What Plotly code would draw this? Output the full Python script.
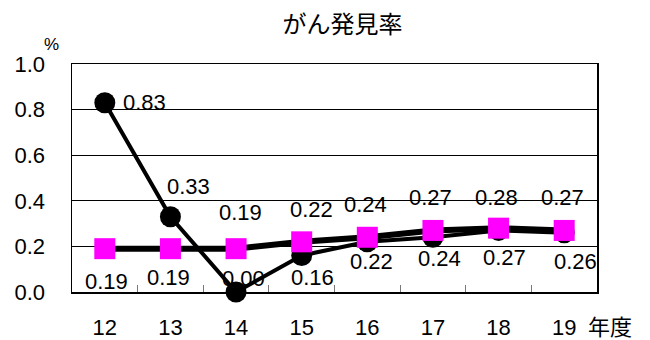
import plotly.graph_objects as go

# ---- data ----
years = ["12", "13", "14", "15", "16", "17", "18", "19"]
black_series = [0.83, 0.33, 0.00, 0.16, 0.22, 0.24, 0.27, 0.26]
magenta_series = [0.19, 0.19, 0.19, 0.22, 0.24, 0.27, 0.28, 0.27]
y_ticks = [0.0, 0.2, 0.4, 0.6, 0.8, 1.0]
title_text = "がん発見率"
x_unit = "年度"
y_unit = "%"

# ---- label offsets (pixels, style only) ----
black_label_dx = [40, 18, 7, 11, 4, 7, 6, 11]
black_label_dy = [0, -30, -14, 22, 20, 21, 27, 29]
mag_label_dx = [2, -2, 4, 10, -2, -2, -2, -2]
mag_label_dy = [33, 29, -36, -32, -33, -33, -31, -33]

FONT = "Liberation Sans, Arial, sans-serif"
JFONT = "Noto Sans CJK JP, sans-serif"
FS = 22

fig = go.Figure()
fig.add_trace(go.Scatter(
    x=years, y=black_series, mode="lines+markers",
    line=dict(color="black", width=4),
    marker=dict(symbol="circle", size=21, color="black"),
    showlegend=False, cliponaxis=False, hoverinfo="skip"))
fig.add_trace(go.Scatter(
    x=years, y=magenta_series, mode="lines+markers",
    line=dict(color="black", width=6),
    marker=dict(symbol="square", size=21, color="#FF00FF"),
    showlegend=False, cliponaxis=False, hoverinfo="skip"))

annotations = []
for i, y in enumerate(years):
    annotations.append(dict(x=i, y=black_series[i], xref="x", yref="y",
                            text=f"{black_series[i]:.2f}",
                            xshift=black_label_dx[i], yshift=-black_label_dy[i],
                            showarrow=False, xanchor="center", yanchor="middle",
                            font=dict(family=FONT, size=FS, color="black")))
    annotations.append(dict(x=i, y=magenta_series[i], xref="x", yref="y",
                            text=f"{magenta_series[i]:.2f}",
                            xshift=mag_label_dx[i], yshift=-mag_label_dy[i],
                            showarrow=False, xanchor="center", yanchor="middle",
                            font=dict(family=FONT, size=FS, color="black")))

annotations.append(dict(xref="paper", yref="paper", x=-0.04, y=1.085, text=y_unit,
                        showarrow=False, xanchor="center", yanchor="middle",
                        font=dict(family=FONT, size=17, color="black")))
annotations.append(dict(xref="paper", yref="paper", x=1.025, y=-0.145, text=x_unit,
                        showarrow=False, xanchor="center", yanchor="middle",
                        font=dict(family=JFONT, size=22, color="black")))

fig.update_layout(
    width=650, height=340,
    margin=dict(l=72, r=53, t=64, b=48, autoexpand=False),
    paper_bgcolor="white", plot_bgcolor="white",
    title=dict(text=title_text, x=0.527, xref="container", xanchor="center",
               y=1 - 25 / 340, yref="container", yanchor="middle",
               font=dict(family=JFONT, size=24, color="black")),
    annotations=annotations,
    xaxis=dict(type="category", range=[-0.5, 7.5], showgrid=False,
               showline=True, linecolor="black", linewidth=1.5, mirror=True,
               ticks="inside", tickson="boundaries", ticklen=7, tickcolor="#777",
               tickfont=dict(family=FONT, size=FS, color="black"),
               ticklabelstandoff=15, zeroline=False, automargin=False),
    yaxis=dict(range=[0, 1], tickvals=y_ticks, tickformat=".1f",
               showgrid=True, gridcolor="black", gridwidth=1,
               showline=True, linecolor="black", linewidth=1.5, mirror=True,
               ticks="",
               tickfont=dict(family=FONT, size=FS, color="black"),
               ticklabelstandoff=21, zeroline=False, automargin=False),
)

fig.write_html("out.html", config={"displayModeBar": False, "staticPlot": True},
               post_script="document.body.style.margin='0';document.body.style.overflow='hidden';")
